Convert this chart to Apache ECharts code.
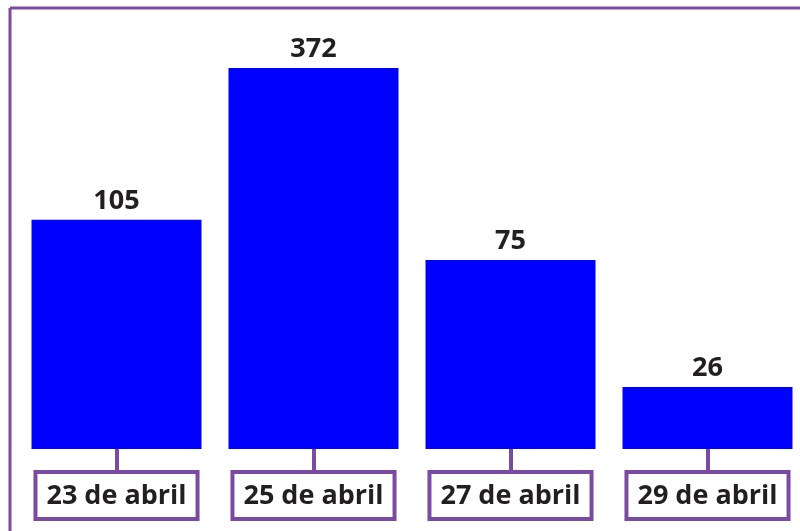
<!DOCTYPE html>
<html>
<head>
<meta charset="utf-8">
<script src="https://cdn.jsdelivr.net/npm/echarts@6/dist/echarts.min.js"></script>
<style>html,body{margin:0;padding:0;background:#fff}#c{width:800px;height:531px}</style>
</head>
<body>
<div id="c"></div>
<script>
const categories = ['23 de abril', '25 de abril', '27 de abril', '29 de abril'];
const values = [105, 372, 75, 26];

const purple = '#7B4BA1';
const chart = echarts.init(document.getElementById('c'));
chart.setOption({
  animation: false,
  backgroundColor: '#fff',
  graphic: [
    { type: 'line', shape: { x1: 10, y1: 8, x2: 800, y2: 8 }, style: { stroke: purple, lineWidth: 3 } },
    { type: 'line', shape: { x1: 10, y1: 8, x2: 10, y2: 531 }, style: { stroke: purple, lineWidth: 3 } }
  ],
  grid: { left: 18, width: 788, top: 68, bottom: 82, outerBoundsMode: 'none', containLabel: false },
  xAxis: {
    type: 'category',
    data: categories,
    axisLine: { show: false },
    axisTick: { show: true, alignWithLabel: true, length: 24, lineStyle: { color: purple, width: 4 } },
    axisLabel: {
      margin: 25,
      fontFamily: 'Open Sans',
      fontWeight: 'bold',
      fontSize: 27,
      color: '#231F20',
      backgroundColor: '#fff',
      borderColor: purple,
      borderWidth: 4,
      padding: [6, 9, 5, 9],
      lineHeight: 32
    }
  },
  yAxis: {
    type: 'log',
    min: 15.5,
    max: 372,
    show: false,
    splitLine: { show: false }
  },
  series: [{
    type: 'bar',
    data: values,
    barWidth: 170,
    itemStyle: { color: '#0000FF' },
    label: {
      show: true,
      position: 'top',
      distance: 5,
      fontFamily: 'Open Sans',
      fontWeight: 'bold',
      fontSize: 27,
      color: '#231F20'
    }
  }]
});
</script>
</body>
</html>
